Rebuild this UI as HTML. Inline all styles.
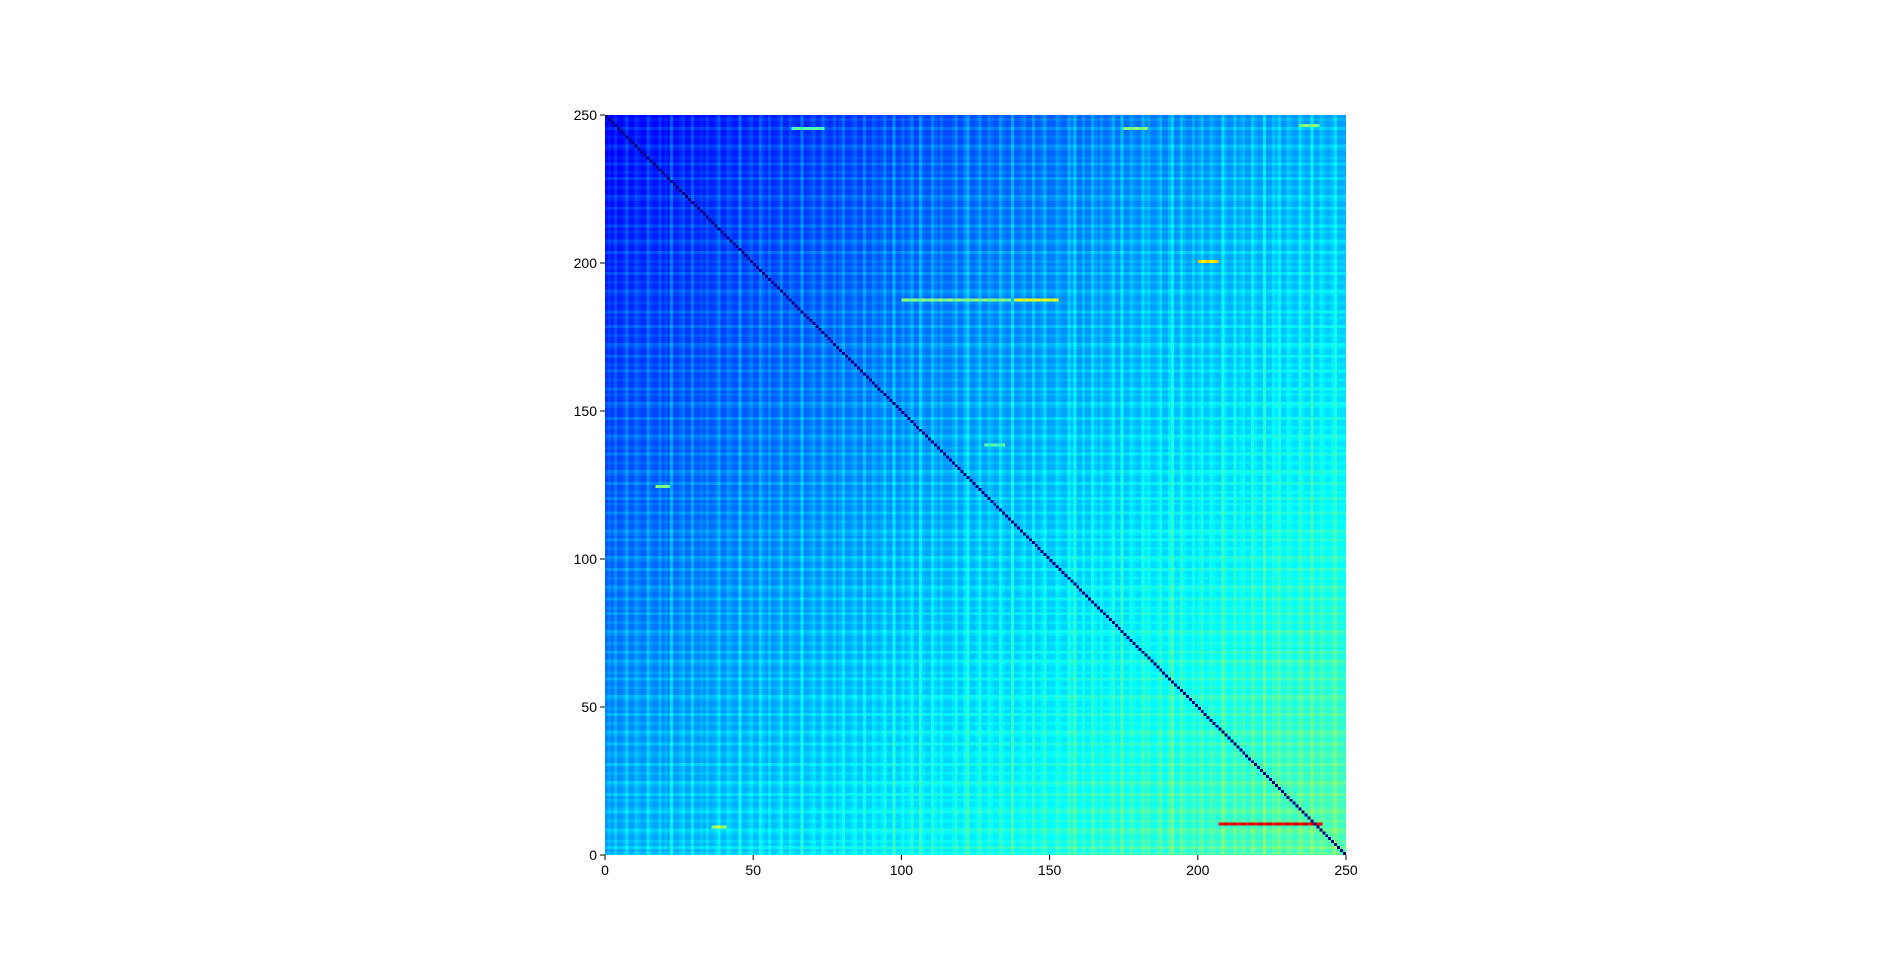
<!DOCTYPE html>
<html><head><meta charset="utf-8">
<style>
html,body{margin:0;padding:0;background:#fff;}
body{width:1904px;height:961px;position:relative;overflow:hidden;font-family:"Liberation Sans",sans-serif;}
#heatmap{position:absolute;left:605px;top:115px;width:741px;height:740px;image-rendering:pixelated;}
svg{position:absolute;left:0;top:0;}
</style></head>
<body>
<canvas id="heatmap" width="250" height="250"></canvas>
<svg id="axes" width="1904" height="961"></svg>
<script>
const nCells = 250;
const xTicks = [0, 50, 100, 150, 200, 250];
const yTicks = [0, 50, 100, 150, 200, 250];
const colStripes = "01020013002100310020104001200300102001300210040012" +
  "00310200130021004001200310020130012003002101300400" +
  "20130041003102000130024001300210031004001200300130" +
  "00210031400200310200130040021003120013002400310020" +
  "13002100410030120031004002130021003100400210013000";
const rowStripes = "10201001200100210010200120010020011002001200100201" +
  "00120010020100120020010012001002010020012001002001" +
  "20010020120010020010201002001200100201001200100200" +
  "01200102001002010020012001002001020010012001002010" +
  "10020012001020010020012001002010020100120010020010";
// highlighted streaks: [row, xStart, xEnd, value]
const streaks = [
  [10, 207, 241, 0.9],
  [187, 138, 152, 0.6],
  [187, 100, 136, 0.5],
  [200, 200, 206, 0.64],
  [245, 175, 182, 0.5],
  [246, 234, 240, 0.5],
  [124, 17, 21, 0.5],
  [9, 36, 40, 0.55],
  [138, 128, 134, 0.45],
  [245, 63, 73, 0.45]
];

function jet(v){
  const c = t => Math.max(0, Math.min(1, t));
  return [c(1.5 - Math.abs(4*v - 3)), c(1.5 - Math.abs(4*v - 2)), c(1.5 - Math.abs(4*v - 1))].map(t => Math.round(t*255));
}
function cellValue(x, y){
  return 0.115 + 0.165*x/249 + 0.165*(1 - y/249) + 0.018*(+colStripes[x]) + 0.02*(+rowStripes[y]);
}
const cv = document.getElementById('heatmap');
const ctx = cv.getContext('2d');
const img = ctx.createImageData(nCells, nCells);
const vals = [];
for (let y = 0; y < nCells; y++){ vals[y] = []; for (let x = 0; x < nCells; x++) vals[y][x] = cellValue(x, y); }
streaks.forEach(s => { for (let x = s[1]; x <= s[2]; x++) vals[s[0]][x] = s[3] + 0.04*((x % 3) - 1); });
for (let i = 0; i < nCells; i++) vals[nCells - 1 - i][i] = 0;
for (let y = 0; y < nCells; y++) for (let x = 0; x < nCells; x++){
  const row = nCells - 1 - y;
  const c = jet(vals[y][x]);
  const k = (row*nCells + x)*4;
  img.data[k] = c[0]; img.data[k+1] = c[1]; img.data[k+2] = c[2]; img.data[k+3] = 255;
}
ctx.putImageData(img, 0, 0);

const svg = document.getElementById('axes');
const NS = 'http://www.w3.org/2000/svg';
const L = 605, T = 115, W = 741, H = 740;
const xs = v => L + v / nCells * W;
const ys = v => T + H - v / nCells * H;
function mk(tag, attrs, text){
  const e = document.createElementNS(NS, tag);
  for (const k in attrs) e.setAttribute(k, attrs[k]);
  if (text !== undefined) e.textContent = text;
  svg.appendChild(e); return e;
}
xTicks.forEach(t => {
  const l = mk('line', {x1: xs(t), x2: xs(t), y1: T+H, y2: T+H+5, stroke: '#000', 'stroke-width': 1});
  
  
  const tx = mk('text', {x: xs(t), y: T+H+20, 'text-anchor': 'middle', 'font-size': 14, fill: '#000'}, t);
  
  
});
yTicks.forEach(t => {
  const l = mk('line', {x1: L-5, x2: L, y1: ys(t), y2: ys(t), stroke: '#000', 'stroke-width': 1});
  
  
  const tx = mk('text', {x: L-8, y: ys(t)+5, 'text-anchor': 'end', 'font-size': 14, fill: '#000'}, t);
  
  
});
</script>
</body></html>
